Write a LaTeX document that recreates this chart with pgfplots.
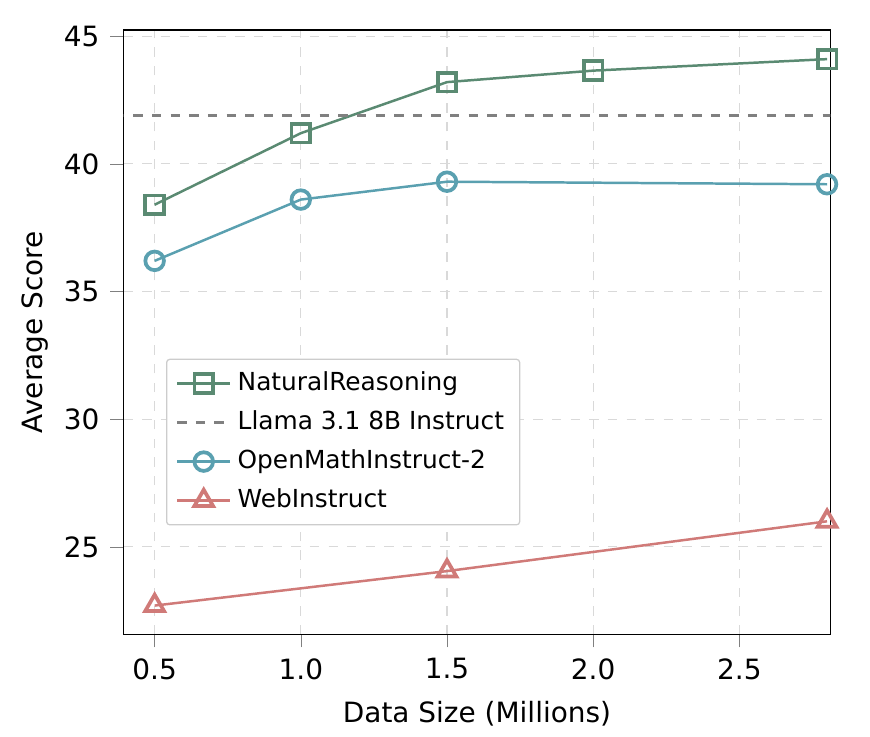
\documentclass[border=0pt]{standalone}
\usepackage{pgfplots}
\pgfplotsset{compat=1.18}
\usepackage{fontspec}
\setmainfont{DejaVu Sans}
\definecolor{cg}{HTML}{5A8A72}
\definecolor{ct}{HTML}{5AA0B0}
\definecolor{cr}{HTML}{D07A78}
\begin{document}
\begin{tikzpicture}
\useasboundingbox (-1.4cm,-1.16cm) rectangle (8.45cm,7.18cm);
\begin{axis}[
  at={(0,0)}, anchor=south west, scale only axis,
  width=8.0cm, height=6.84cm,
  xmin=0.394, xmax=2.811, ymin=21.58, ymax=45.24,
  xtick={0.5,1.0,1.5,2.0,2.5},
  xticklabels={0.5,1.0,1.5,2.0,2.5},
  ytick={25,30,35,40,45},
  /pgf/number format/assume math mode=true,
  tick label style={font=\small},
  label style={font=\small},
  xlabel={Data Size (Millions)}, ylabel={Average Score},
  ylabel style={yshift=-2pt},
  grid=major, grid style={dashed, gray!30},
  tick align=outside, xtick pos=bottom, ytick pos=left,
  legend style={at={(0.06,0.18)}, anchor=south west, font=\footnotesize, draw=gray!40, rounded corners=1pt, row sep=1pt},
  legend cell align=left,
]
\addplot[cg, thick, mark=square, mark options={line width=1.2pt, fill=white}, mark size=3pt] coordinates {(0.5,38.4)(1.0,41.2)(1.5,43.2)(2.0,43.65)(2.8,44.1)};
\addlegendentry{NaturalReasoning}
\addplot[gray, thick, dashed] coordinates {(0.3,41.9)(3.0,41.9)};
\addlegendentry{Llama 3.1 8B Instruct}
\addplot[ct, thick, mark=o, mark options={line width=1.2pt, fill=white}, mark size=3pt] coordinates {(0.5,36.2)(1.0,38.6)(1.5,39.3)(2.8,39.2)};
\addlegendentry{OpenMathInstruct-2}
\addplot[cr, thick, mark=triangle, mark options={line width=1.2pt, fill=white}, mark size=3.5pt] coordinates {(0.5,22.7)(1.5,24.05)(2.8,26.0)};
\addlegendentry{WebInstruct}
\end{axis}
\end{tikzpicture}
\end{document}
